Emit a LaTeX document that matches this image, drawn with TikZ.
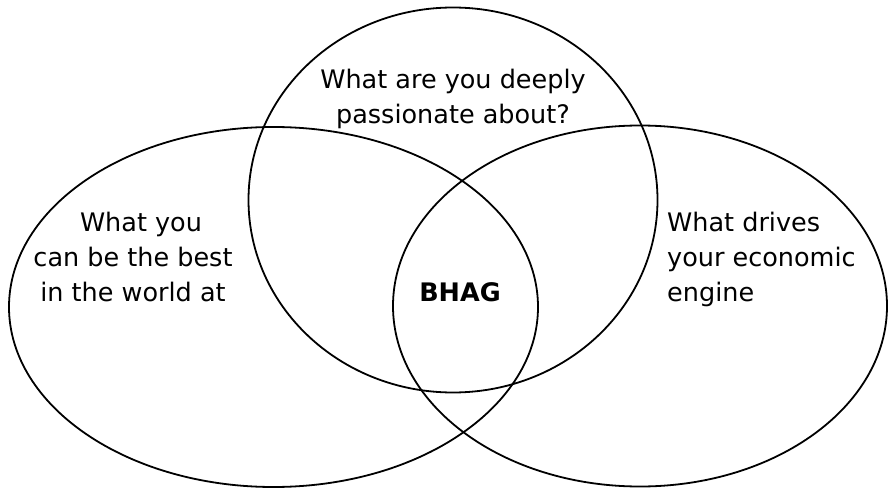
\documentclass[tikz,border=0pt]{standalone}
\usepackage{fontspec}
\setmainfont{DejaVu Sans}
\usetikzlibrary{positioning}

\begin{document}
\begin{tikzpicture}[
    x=1pt, y=-1pt,
    ring/.style={draw, line width=1.8pt},
    lbl/.style={inner sep=0pt, anchor=base, font=\fontsize{25.5}{35}\selectfont},
]
\useasboundingbox (0,0) rectangle (888,489);

% --- The three circles of the Venn diagram
\draw[ring] (273.5,307) ellipse [x radius=264.5, y radius=180];
\draw[ring] (453,200)   ellipse [x radius=204.5, y radius=192.5];
\draw[ring] (640,306)   ellipse [x radius=247,   y radius=180.5];

% --- Labels (base anchor sits on the last line)
\node[lbl, align=center] (passion) at (453,124)
    {What are you deeply\\passionate about?};
\node[lbl, align=center] (best) at (133,301)
    {\hspace*{16pt}What you\\can be the best\\in the world at};
\node[lbl, align=left, anchor=base west] (engine) at (667,301)
    {What drives\\your economic\\engine};
\node[lbl, font=\fontsize{25.5}{30}\selectfont\bfseries] (bhag) at (460,301) {BHAG};
\end{tikzpicture}
\end{document}
